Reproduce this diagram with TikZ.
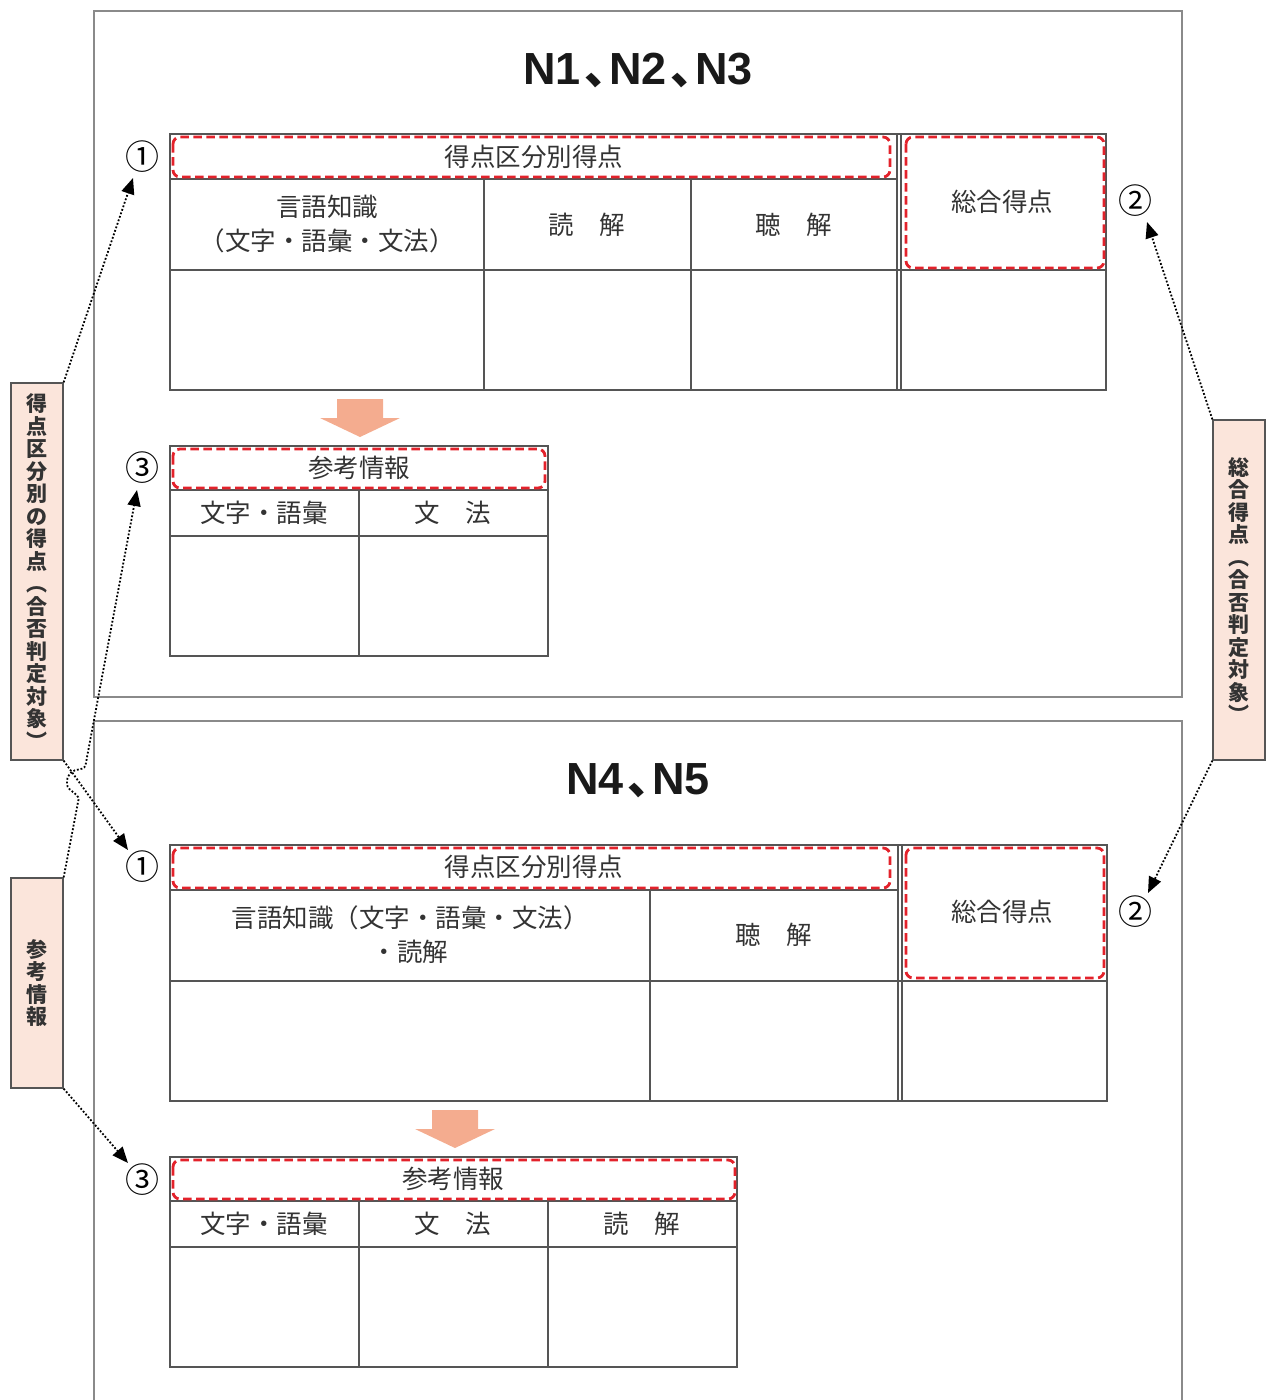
\documentclass[tikz,border=0pt]{standalone}
\usepackage{fontspec}
\setmainfont{Noto Sans CJK JP}
\newfontfamily\latn{Liberation Sans}
\newfontfamily\jpnp[RawFeature=+palt]{Noto Sans CJK JP}
\usetikzlibrary{calc,arrows.meta}
\definecolor{tline}{HTML}{555555}
\definecolor{framec}{HTML}{8A8A8A}
\definecolor{dred}{HTML}{E3222B}
\definecolor{peach}{HTML}{FBE5DB}
\definecolor{salmon}{HTML}{F4AC8F}
\definecolor{txt}{HTML}{333333}
\newcommand{\tcomma}{\kern4pt{\jpnp\bfseries\fontsize{45}{45}\selectfont 、}\kern2pt}
\tikzset{
  x=1pt, y=-1pt,
  tbl/.style={draw=tline, line width=1.4pt},
  framebox/.style={draw=framec, line width=1.2pt},
  redbox/.style={draw=dred, line width=2.8pt, dash pattern=on 8.5pt off 4.5pt, rounded corners=7pt},
  cell/.style={font=\fontsize{25.5}{34}\selectfont, text=txt, inner sep=0pt, align=center},
  num/.style={font=\fontsize{34}{34}\selectfont, text=black, inner sep=0pt},
  ttl/.style={font=\latn\bfseries\fontsize{45}{45}\selectfont, text=black!90, inner sep=0pt, anchor=base},
  side/.style={draw=tline, fill=peach, line width=1.3pt, minimum width=52pt, inner sep=0pt,
    font=\bfseries\fontsize{21}{22.5}\selectfont, text=txt, align=center},
  conn/.style={line width=1.8pt, dash pattern=on 1.8pt off 1.9pt, -{Triangle[length=16pt,width=13pt]}},
  blockarrow/.style={fill=salmon, draw=none}
}
\begin{document}
\begin{tikzpicture}
\useasboundingbox (0,0) rectangle (1267,1400);

% outer frames
\draw[framebox] (94,11) rectangle (1182,697);
\draw[framebox] (94,1400) -- (94,721) -- (1182,721) -- (1182,1400);

% titles
\node[ttl] (t1) at (638,84) {N1\tcomma N2\tcomma N3};
\node[ttl] (t2) at (638,794) {N4\tcomma N5};

% ===== upper main table =====
\draw[tbl] (170,134) rectangle (1106,390);
\draw[tbl] (170,179) -- (897,179);
\draw[tbl] (170,270) -- (1106,270);
\draw[tbl] (484,179) -- (484,390);
\draw[tbl] (691,179) -- (691,390);
\draw[tbl] (897,134) -- (897,390);
\draw[tbl] (901,134) -- (901,390);
\draw[redbox] (173,137) rectangle (890,177);
\draw[redbox] (906,137) rectangle (1104,268);
\node[cell] (h1) at (534,157) {得点区分別得点};
\node[cell] (g1) at (327,224) {言語知識\\（文字・語彙・文法）};
\node[cell] (d1) at (587,225) {読　解};
\node[cell] (l1) at (794,225) {聴　解};
\node[cell] (s1) at (1002,202) {総合得点};

% block arrow 1
\fill[blockarrow] (337,399) -- (383,399) -- (383,418) -- (400,418) -- (360,437) -- (320,418) -- (337,418) -- cycle;

% ===== upper reference table =====
\draw[tbl] (170,446) rectangle (548,656);
\draw[tbl] (170,490) -- (548,490);
\draw[tbl] (170,536) -- (548,536);
\draw[tbl] (359,490) -- (359,656);
\draw[redbox] (173,449) rectangle (545,488);
\node[cell] (r1) at (359,468) {参考情報};
\node[cell] (m1) at (264,513) {文字・語彙};
\node[cell] (b1) at (453,513) {文　法};

% ===== lower main table =====
\draw[tbl] (170,845) rectangle (1107,1101);
\draw[tbl] (170,890) -- (898,890);
\draw[tbl] (170,981) -- (1107,981);
\draw[tbl] (650,890) -- (650,1101);
\draw[tbl] (898,845) -- (898,1101);
\draw[tbl] (902,845) -- (902,1101);
\draw[redbox] (173,848) rectangle (890,888);
\draw[redbox] (906,848) rectangle (1104,978);
\node[cell] (h2) at (534,867) {得点区分別得点};
\node[cell] (g2) at (410,935) {言語知識（文字・語彙・文法）\\・読解};
\node[cell] (l2) at (774,935) {聴　解};
\node[cell] (s2) at (1002,912) {総合得点};

% block arrow 2
\fill[blockarrow] (432,1110) -- (478,1110) -- (478,1129) -- (495,1129) -- (455,1148) -- (415,1129) -- (432,1129) -- cycle;

% ===== lower reference table =====
\draw[tbl] (170,1157) rectangle (737,1367);
\draw[tbl] (170,1201) -- (737,1201);
\draw[tbl] (170,1247) -- (737,1247);
\draw[tbl] (359,1201) -- (359,1367);
\draw[tbl] (548,1201) -- (548,1367);
\draw[redbox] (173,1160) rectangle (735,1199);
\node[cell] (r2) at (453,1179) {参考情報};
\node[cell] (m2) at (264,1224) {文字・語彙};
\node[cell] (b2) at (453,1224) {文　法};
\node[cell] (d2) at (642,1224) {読　解};

% circled numbers
\node[num] (c1a) at (142,157) {①};
\node[num] (c2a) at (1135,201) {②};
\node[num] (c3a) at (142,468) {③};
\node[num] (c1b) at (142,867) {①};
\node[num] (c2b) at (1135,912) {②};
\node[num] (c3b) at (142,1180) {③};

% side labels
\node[side, minimum height=377pt] (lb1) at (37,571.5)
  {得\\点\\区\\分\\別\\の\\得\\点\\︵\\合\\否\\判\\定\\対\\象\\︶};
\node[side, minimum height=210pt] (lb2) at (37,983) {参\\考\\情\\報};
\node[side, minimum height=340pt] (rb) at (1239,590)
  {総\\合\\得\\点\\︵\\合\\否\\判\\定\\対\\象\\︶};

% connectors
\draw[conn] (lb1.north east) -- ($(c1a.center)+(-9,21)$);
\draw[conn] (lb1.south east) -- ($(c1b.center)+(-14,-17)$);
\draw[conn, rounded corners=3pt] (lb2.north east) -- (79,797) -- (67,787) -- (67,778) -- (72,771) -- (85,768) -- ($(c3a.center)+(-5,22)$);
\draw[conn] (lb2.south east) -- ($(c3b.center)+(-14,-17)$);
\draw[conn] (rb.north west) -- ($(c2a.center)+(12,21)$);
\draw[conn] (rb.south west) -- ($(c2b.center)+(13,-19)$);
\end{tikzpicture}
\end{document}
